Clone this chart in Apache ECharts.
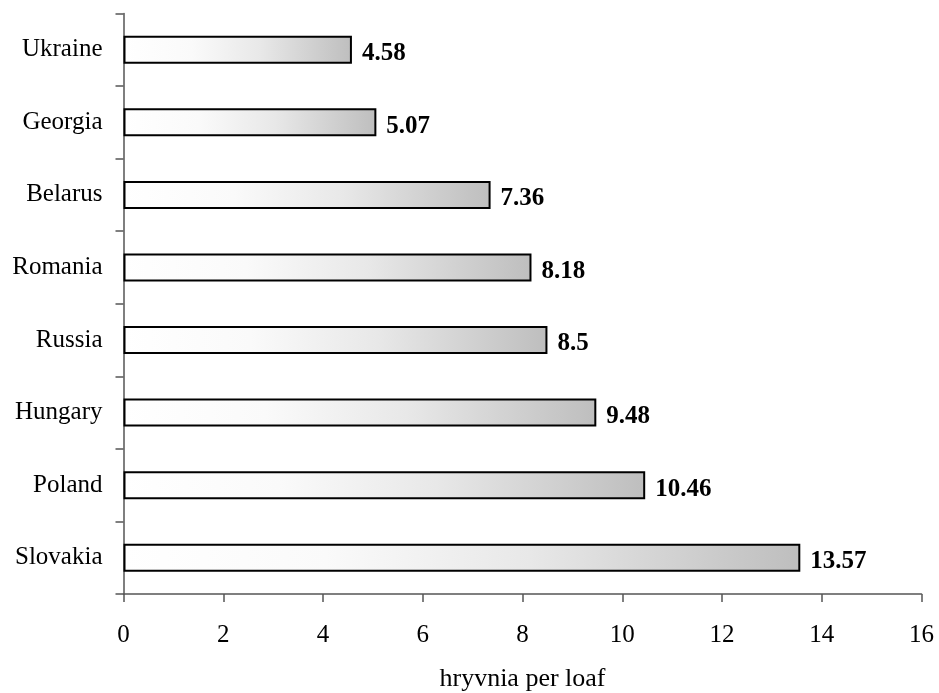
<!DOCTYPE html>
<html>
<head>
<meta charset="utf-8">
<script src="https://cdn.jsdelivr.net/npm/echarts@6/dist/echarts.min.js"></script>
<style>
html,body{margin:0;padding:0;background:#fff;}
#chart{width:939px;height:693px;}
</style>
</head>
<body>
<div id="chart"></div>
<script>
const categories = ["Ukraine", "Georgia", "Belarus", "Romania", "Russia", "Hungary", "Poland", "Slovakia"];
const values = [4.58, 5.07, 7.36, 8.18, 8.5, 9.48, 10.46, 13.57];
const axisName = "hryvnia per loaf";

const font = "'Liberation Serif', 'Times New Roman', serif";
const chart = echarts.init(document.getElementById('chart'));
chart.setOption({
  animation: false,
  backgroundColor: '#ffffff',
  grid: { left: 123.5, right: 17.5, top: 13.5, bottom: 99, containLabel: false, outerBoundsMode: 'none' },
  xAxis: {
    type: 'value', min: 0, max: 16, interval: 2,
    name: axisName, nameLocation: 'middle', nameGap: 72,
    nameTextStyle: { fontFamily: font, fontSize: 26, color: '#000' },
    axisLine: { show: true, lineStyle: { color: '#555', width: 1.5 } },
    axisTick: { show: true, length: 8, lineStyle: { color: '#555', width: 1.5 } },
    axisLabel: { fontFamily: font, fontSize: 25, color: '#000', margin: 29 },
    splitLine: { show: false }
  },
  yAxis: {
    type: 'category', data: categories, inverse: true,
    axisLine: { show: true, lineStyle: { color: '#555', width: 1.5 } },
    axisTick: { show: true, length: 8, lineStyle: { color: '#555', width: 1.5 } },
    axisLabel: { fontFamily: font, fontSize: 25, color: '#000', margin: 21 }
  },
  series: [{
    type: 'bar', data: values, barWidth: 28,
    itemStyle: {
      color: new echarts.graphic.LinearGradient(0, 0, 1, 0, [
        { offset: 0, color: '#ffffff' },
        { offset: 0.3, color: '#fafafa' },
        { offset: 0.6, color: '#e8e8e8' },
        { offset: 1, color: '#bebebe' }
      ]),
      borderColor: '#000', borderWidth: 2
    },
    label: {
      show: true, position: 'right', distance: 10,
      fontFamily: font, fontSize: 25, fontWeight: 'bold', color: '#000',
      offset: [0, 4]
    }
  }]
});
</script>
</body>
</html>
